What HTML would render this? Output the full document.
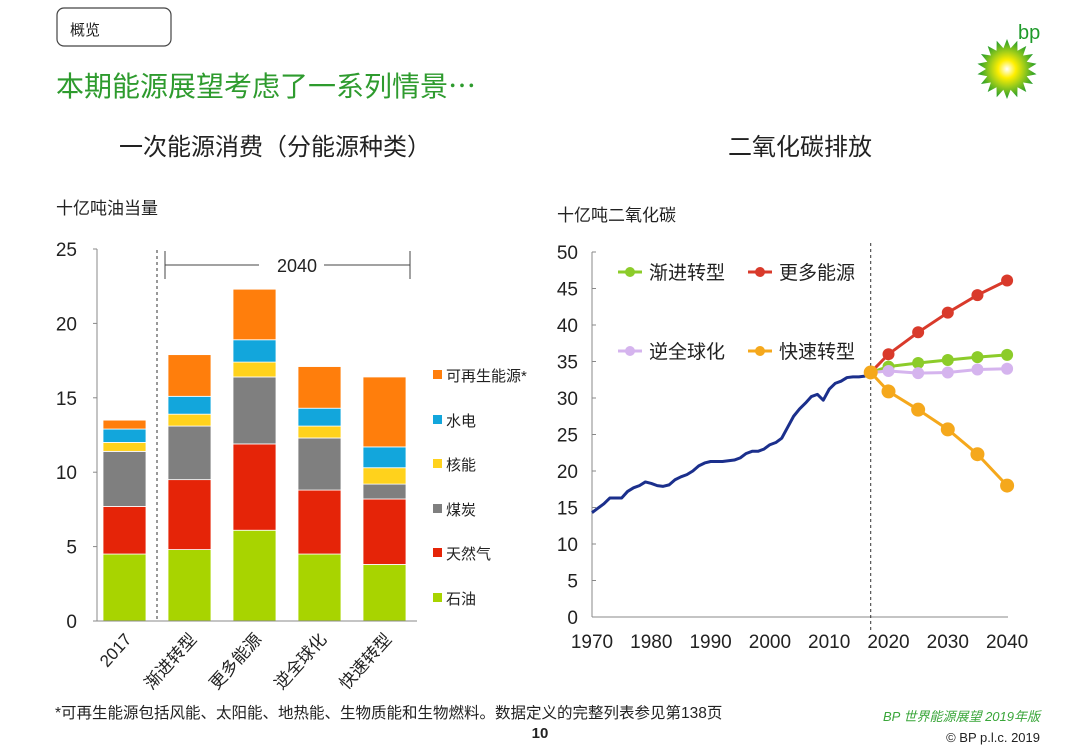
<!DOCTYPE html>
<html><head><meta charset="utf-8"><style>
body{margin:0;background:#fff;}
svg{display:block;font-family:"Liberation Sans","Noto Sans CJK SC",sans-serif;}
</style></head><body>
<svg id="s" width="1080" height="748" viewBox="0 0 1080 748">
<rect x="57" y="8" width="114" height="38" rx="7" fill="#fff" stroke="#444" stroke-width="1.2"/>
<text x="70" y="35" font-size="15" fill="#222">概览</text>
<text x="56" y="96" font-size="28" fill="#2e9b2e">本期能源展望考虑了一系列情景<tspan font-family="Noto Sans CJK SC">⋯</tspan></text>
<text x="275" y="155" font-size="24" fill="#222" text-anchor="middle">一次能源消费（分能源种类）</text>
<text x="800" y="155" font-size="24" fill="#222" text-anchor="middle">二氧化碳排放</text>
<text x="56" y="214" font-size="17" fill="#222">十亿吨油当量</text>
<text x="557" y="221" font-size="17" fill="#222">十亿吨二氧化碳</text>
<g>
<defs><radialGradient id="sun"><stop offset="0" stop-color="#fff"/><stop offset="0.3" stop-color="#ffef00"/><stop offset="0.6" stop-color="#9ccc1a"/><stop offset="1" stop-color="#1e9a2a"/></radialGradient></defs>
<polygon id="star" fill="url(#sun)"/>
<text x="1018" y="39" font-size="20" fill="#1e9a2a">bp</text>
</g>
<g id="left"></g>
<g id="right"></g>
<text x="55" y="718" font-size="15.5" fill="#222">*可再生能源包括风能、太阳能、地热能、生物质能和生物燃料。数据定义的完整列表参见第138页</text>
<text x="540" y="738" font-size="15" font-weight="bold" fill="#222" text-anchor="middle">10</text>
<text x="1040" y="721" font-size="13" font-style="italic" fill="#3aa63a" text-anchor="end">BP 世界能源展望 2019年版</text>
<text x="1040" y="742" font-size="13" fill="#222" text-anchor="end">© BP p.l.c. 2019</text>
</svg>
<script>
// ---- left chart data ----
const barCats=["2017","渐进转型","更多能源","逆全球化","快速转型"];
const fuels=["石油","天然气","煤炭","核能","水电","可再生能源*"];
const oil=[4.5,4.8,6.1,4.5,3.8];
const gas=[3.2,4.7,5.8,4.3,4.4];
const coal=[3.7,3.6,4.5,3.5,1.0];
const nuclear=[0.6,0.8,1.0,0.8,1.1];
const hydro=[0.9,1.2,1.5,1.2,1.4];
const renew=[0.6,2.8,3.4,2.8,4.7];
const leftTicks=[0,5,10,15,20,25];
// ---- right chart data ----
const histYears=[1970,1971,1972,1973,1974,1975,1976,1977,1978,1979,1980,1981,1982,1983,1984,1985,1986,1987,1988,1989,1990,1991,1992,1993,1994,1995,1996,1997,1998,1999,2000,2001,2002,2003,2004,2005,2006,2007,2008,2009,2010,2011,2012,2013,2014,2015,2016,2017];
const histCO2=[14.3,14.9,15.5,16.3,16.3,16.3,17.2,17.7,18.0,18.5,18.3,18.0,17.9,18.1,18.8,19.2,19.5,20.0,20.7,21.1,21.3,21.3,21.3,21.4,21.5,21.8,22.4,22.7,22.7,23.0,23.6,23.9,24.5,26.0,27.5,28.5,29.3,30.2,30.5,29.7,31.2,32.0,32.3,32.8,32.9,32.9,33.0,33.2];
const scenYears=[2017,2020,2025,2030,2035,2040];
const evolving=[33.5,34.3,34.8,35.2,35.6,35.9];
const moreEnergy=[33.5,36.0,39.0,41.7,44.1,46.1];
const lessGlobal=[33.5,33.7,33.4,33.5,33.9,34.0];
const rapid=[33.5,30.9,28.4,25.7,22.3,18.0];
const rightYTicks=[0,5,10,15,20,25,30,35,40,45,50];
const rightXTicks=[1970,1980,1990,2000,2010,2020,2030,2040];

const NS="http://www.w3.org/2000/svg";
function mk(parent,tag,attrs,text){const e=document.createElementNS(NS,tag);for(const k in attrs)e.setAttribute(k,attrs[k]);if(text!==undefined)e.textContent=text;parent.appendChild(e);return e;}

// star logo
(function(){const cx=1007,cy=69,n=18;let pts=[];for(let i=0;i<n*2;i++){const r=i%2?21:30;const a=i*Math.PI/n-Math.PI/2;pts.push((cx+r*Math.cos(a)).toFixed(1)+","+(cy+r*Math.sin(a)).toFixed(1));}
const st=document.getElementById('star');st.setAttribute('points',pts.join(' '));

})();

// ---- left chart ----
const L=document.getElementById('left');
const ly=v=>621-v*14.88;
const bx=i=>103+i*65;
const bw=43;
for(const t of leftTicks){
 const tk=mk(L,'line',{x1:93,x2:97,y1:ly(t),y2:ly(t),stroke:'#888'});
 
 
 const tl=mk(L,'text',{x:77,y:ly(t)+7,'font-size':19,'text-anchor':'end',fill:'#222'},t);
 
 
}
const ax1=mk(L,'line',{x1:97,x2:97,y1:ly(25),y2:ly(0),stroke:'#888'});


const series=[oil,gas,coal,nuclear,hydro,renew];
const cols=['#a8d400','#e52408','#7f7f7f','#ffd21c','#12a6dc','#ff7e0c'];
const snames=['oil','gas','coal','nuclear','hydro','renewables'];
barCats.forEach((c,i)=>{
 let base=0;
 series.forEach((s,k)=>{
  const top=base+s[i];
  const r=mk(L,'rect',{x:bx(i),y:ly(top),width:bw,height:ly(base)-ly(top),fill:cols[k],stroke:'#fff','stroke-width':0.8});
  
  
  base=top;
 });
 const cx=bx(i)+bw/2+8, cy=640;
 const lab=mk(L,'text',{x:cx,y:cy,'font-size':17,'text-anchor':'end',fill:'#222',transform:`rotate(-48 ${cx} ${cy})`},c);
 
 
});
const ax2=mk(L,'line',{x1:93,x2:417,y1:ly(0),y2:ly(0),stroke:'#888'});


const dv=mk(L,'line',{x1:157,x2:157,y1:250,y2:621,stroke:'#333','stroke-dasharray':'3,3'});


const br=mk(L,'path',{d:'M165,265H259M324,265H410M165,251V279M410,251V279',stroke:'#444',fill:'none'});


const bt=mk(L,'text',{x:297,y:272,'font-size':18,'text-anchor':'middle',fill:'#222'},'2040');


const legY=[599,554,510,465,421,376];
fuels.forEach((f,k)=>{
 const sq=mk(L,'rect',{x:433,y:legY[k]-6,width:9,height:9,fill:cols[k]});
 
 
 const t=mk(L,'text',{x:446,y:legY[k]+5,'font-size':15,fill:'#222'},f);
 
 
});

// ---- right chart ----
const R=document.getElementById('right');
const ry=v=>617-v*7.3;
const rx=y=>592+(y-1970)*5.93;
for(const t of rightYTicks){
 const tk=mk(R,'line',{x1:592,x2:596,y1:ry(t),y2:ry(t),stroke:'#888'});
 
 
 const tl=mk(R,'text',{x:578,y:ry(t)+7,'font-size':19,'text-anchor':'end',fill:'#222'},t);
 
 
}
for(const t of rightXTicks){
 const tl=mk(R,'text',{x:rx(t),y:648,'font-size':19,'text-anchor':'middle',fill:'#222'},t);
 
 
}
const ra1=mk(R,'line',{x1:592,x2:592,y1:ry(50),y2:ry(0),stroke:'#888'});


const ra2=mk(R,'line',{x1:592,x2:1008,y1:ry(0),y2:ry(0),stroke:'#888'});


const rdv=mk(R,'line',{x1:rx(2017),x2:rx(2017),y1:243,y2:632,stroke:'#333','stroke-dasharray':'3,3'});


const hp=mk(R,'polyline',{points:histYears.map((y,i)=>rx(y)+','+ry(histCO2[i])).join(' '),fill:'none',stroke:'#1b2f8c','stroke-width':3,'stroke-linejoin':'round'});


const scen=[[moreEnergy,'#d93a2b','more-energy',6],[evolving,'#8ccc2a','evolving-transition',6],[lessGlobal,'#d5b4ee','less-globalized',6],[rapid,'#f5a81c','rapid-transition',7]];
for(const [vals,col,nm,r] of scen){
 const pl=mk(R,'polyline',{points:scenYears.map((y,i)=>rx(y)+','+ry(vals[i])).join(' '),fill:'none',stroke:col,'stroke-width':3});
 
 
 scenYears.forEach((y,i)=>{
  const c=mk(R,'circle',{cx:rx(y),cy:ry(vals[i]),r:r,fill:col});
  
  
 });
}
const leg=[[618,272,'#8ccc2a','渐进转型'],[748,272,'#d93a2b','更多能源'],[618,351,'#d5b4ee','逆全球化'],[748,351,'#f5a81c','快速转型']];
for(const [x,y,col,t] of leg){
 const ln=mk(R,'line',{x1:x,x2:x+24,y1:y,y2:y,stroke:col,'stroke-width':3});
 
 
 const c=mk(R,'circle',{cx:x+12,cy:y,r:5,fill:col});
 
 
 const tx=mk(R,'text',{x:x+31,y:y+7,'font-size':19,fill:'#222'},t);
 
 
}
</script>
</body></html>
